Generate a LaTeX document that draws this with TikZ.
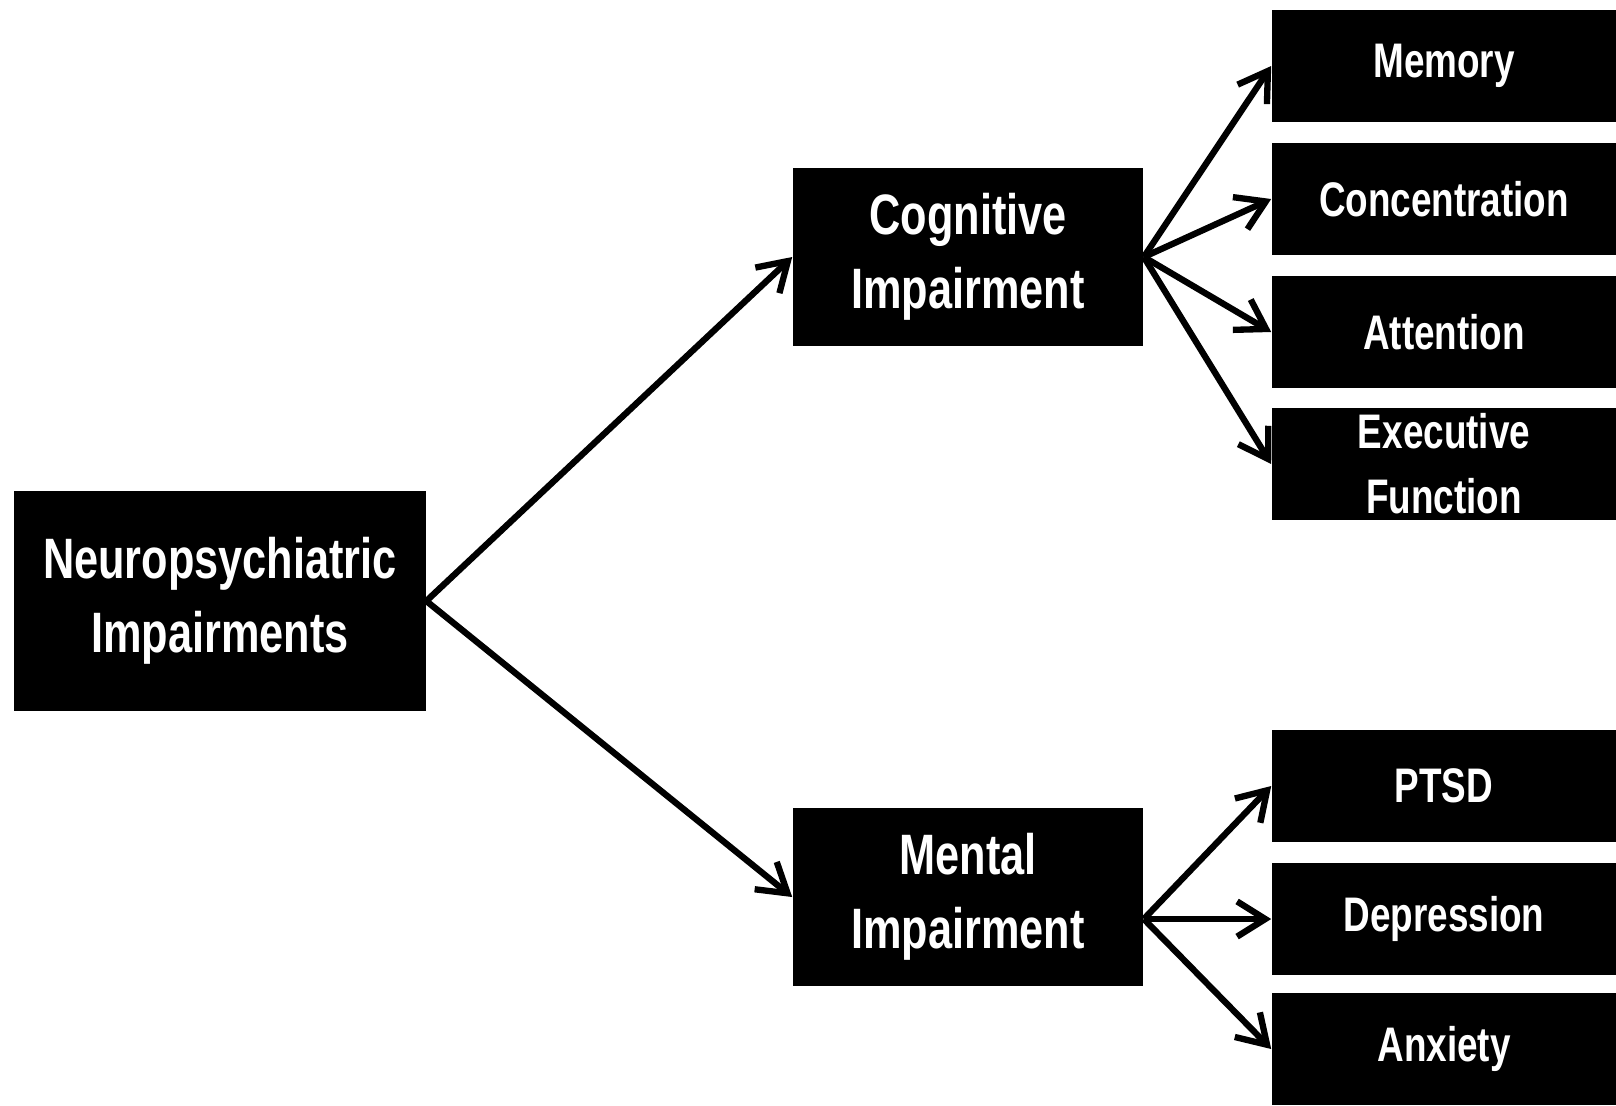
\documentclass[tikz,border=0pt]{standalone}
\usepackage{fontspec}
\setmainfont{Liberation Sans}[FakeStretch=0.76]
\usetikzlibrary{shapes,arrows.meta}

\begin{document}
\begin{tikzpicture}[x=0.01cm, y=-0.01cm]
        % Define block styles
        \tikzstyle{mainbox} = [rectangle, fill=black, text=white, inner sep=0pt,
            align=center, minimum width=4.11cm, minimum height=2.19cm,
            font=\bfseries\fontsize{16.2}{21}\selectfont]
        \tikzstyle{groupbox} = [mainbox, minimum width=3.5cm, minimum height=1.78cm]
        \tikzstyle{itembox} = [rectangle, fill=black, text=white, inner sep=0pt,
            align=center, minimum width=3.44cm, minimum height=1.12cm,
            font=\bfseries\fontsize{13.8}{18.5}\selectfont]
        \tikzstyle{line} = [draw, line width=1.8pt, -{Straight Barb[length=8pt, width=10pt]}]

        \useasboundingbox (0,0) rectangle (1616,1105);

        % Nodes
        \node [mainbox] (neuro) at (220,601) {Neuropsychiatric\\Impairments};
        \node [groupbox] (cognitive) at (968,257) {Cognitive\\Impairment};
        \node [groupbox] (mental) at (968,897) {Mental\\Impairment};

        \node [itembox] (memory) at (1444,66) {Memory};
        \node [itembox] (concentration) at (1444,199) {Concentration};
        \node [itembox] (attention) at (1444,332) {Attention};
        \node [itembox] (executive) at (1444,464) {Executive\\Function};

        \node [itembox] (ptsd) at (1444,786) {PTSD};
        \node [itembox] (depression) at (1444,919) {Depression};
        \node [itembox] (anxiety) at (1444,1049) {Anxiety};

        \coordinate (mfork) at (mental.east |- depression.west);

        % Arrows
        \path [line] (neuro.east) -- (cognitive.west);
        \path [line] (neuro.east) -- (mental.west);
        \path [line] (cognitive.east) -- (memory.west);
        \path [line] (cognitive.east) -- (concentration.west);
        \path [line] (cognitive.east) -- (attention.west);
        \path [line] (cognitive.east) -- (executive.west);
        \path [line] (mfork) -- (ptsd.west);
        \path [line] (mfork) -- (depression.west);
        \path [line] (mfork) -- (anxiety.west);
    \end{tikzpicture}
\end{document}
